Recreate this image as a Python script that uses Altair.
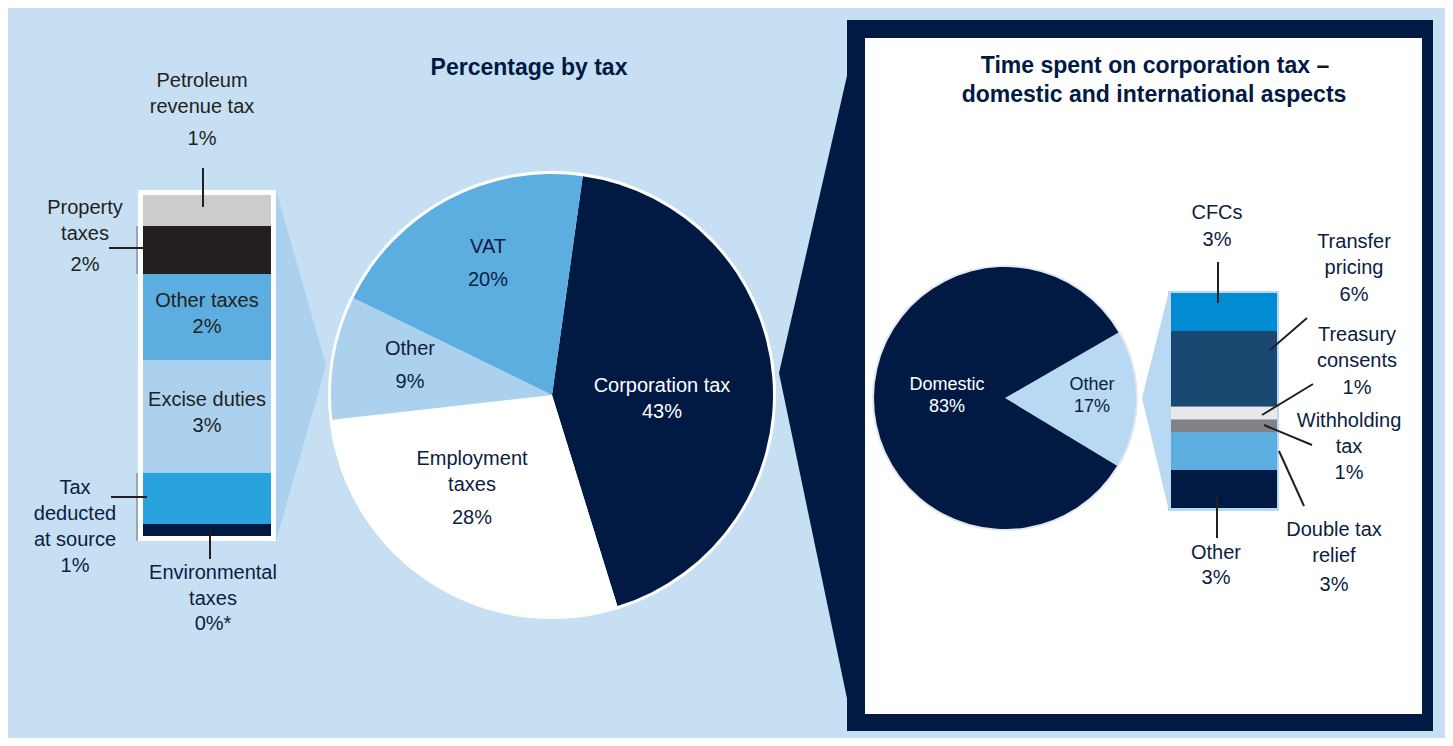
import math
import altair as alt
import pandas as pd

# ---------------- data ----------------
tax_types = ["Corporation tax", "Employment taxes", "Other", "VAT"]
tax_share = [43, 28, 9, 20]

other_types = ["Petroleum revenue tax", "Property taxes", "Other taxes",
               "Excise duties", "Tax deducted at source", "Environmental taxes"]
other_share = [0.82, 1.27, 2.27, 2.98, 1.35, 0.32]      # estimated segment sizes (sum ~ 9%)
other_labels = ["1%", "2%", "2%", "3%", "1%", "0%*"]

ct_parts = ["Other", "Domestic"]
ct_share = [17, 83]

intl_types = ["CFCs", "Transfer pricing", "Treasury consents",
              "Withholding tax", "Double tax relief", "Other"]
intl_share = [3, 6, 1, 1, 3, 3]

title_left = "Percentage by tax"
title_right = ["Time spent on corporation tax \u2013", "domestic and international aspects"]

# ---------------- styles ----------------
BG = "#C6DFF2"
NAVY = "#011A44"
TXT = "#0B1D42"
DARK = "#231F20"
WHITE = "#FFFFFF"
FONT = "Liberation Sans"

tax_colors = [NAVY, WHITE, "#ABD1EE", "#5DAEE0"]
other_colors = ["#CBCCCE", "#231F20", "#5DAEE0", "#ABD1EE", "#29A3DD", NAVY]
ct_colors = ["#B9D8F1", NAVY]
intl_colors = ["#008BD2", "#1B4870", "#E8E9EB", "#808285", "#5DAEE0", NAVY]

O = 8  # page margin


def px(v):
    return v - O


# ---------------- layout ----------------
WRAP = {
    "Employment taxes": ["Employment", "taxes"],
    "Petroleum revenue tax": ["Petroleum", "revenue tax"],
    "Property taxes": ["Property", "taxes"],
    "Tax deducted at source": ["Tax", "deducted", "at source"],
    "Environmental taxes": ["Environmental", "taxes"],
    "Transfer pricing": ["Transfer", "pricing"],
    "Treasury consents": ["Treasury", "consents"],
    "Withholding tax": ["Withholding", "tax"],
    "Double tax relief": ["Double tax", "relief"],
}
MAIN_POS = {"Corporation tax": (662, 386, 412, WHITE), "Employment taxes": (472, 459, 518, TXT),
            "Other": (410, 349, 382, TXT), "VAT": (488, 247, 280, TXT)}
OTHER_POS = {"Petroleum revenue tax": (202, 81, 139, DARK), "Property taxes": (85, 208, 265, DARK),
             "Other taxes": (207, 301, 327, DARK), "Excise duties": (207, 400, 426, DARK),
             "Tax deducted at source": (75, 488, 566, TXT), "Environmental taxes": (213, 573, 624, TXT)}
CT_POS = {"Domestic": (947, 385, 407, WHITE), "Other": (1092, 385, 407, TXT)}
INTL_POS = {"CFCs": (1217, 213, 240, TXT), "Transfer pricing": (1354, 242, 295, TXT),
            "Treasury consents": (1357, 335, 388, TXT), "Withholding tax": (1349, 421, 473, TXT),
            "Double tax relief": (1334, 530, 585, TXT), "Other": (1216, 553, 578, TXT)}

rows = []


def add_labels(names, pcts, pos, size, gap=26):
    for n, p in zip(names, pcts):
        x, yn, yp, col = pos[n]
        for i, line in enumerate(WRAP.get(n, [n])):
            rows.append(dict(text=line, x=px(x), y=px(yn + i * gap), color=col, size=size))
        rows.append(dict(text=p, x=px(x), y=px(yp), color=col, size=size))


add_labels(tax_types, [f"{v}%" for v in tax_share], MAIN_POS, 20)
add_labels(other_types, other_labels, OTHER_POS, 20)
add_labels(["Domestic", "Other"], [f"{ct_share[1]}%", f"{ct_share[0]}%"], CT_POS, 18, gap=22)
add_labels(intl_types, [f"{v}%" for v in intl_share], INTL_POS, 20)
labels_df = pd.DataFrame(rows)

titles_df = pd.DataFrame([
    dict(text=title_left, x=px(529), y=px(68)),
    dict(text=title_right[0], x=px(1155), y=px(66)),
    dict(text=title_right[1], x=px(1154), y=px(95)),
])

frames_df = pd.DataFrame([
    dict(x=px(847), x2=px(1433), y=px(20), y2=px(731), fill=NAVY),
    dict(x=px(865), x2=px(1422), y=px(38), y2=px(714), fill=WHITE),
    dict(x=px(138), x2=px(276), y=px(190), y2=px(541), fill=WHITE),
    dict(x=px(1168), x2=px(1279), y=px(291), y2=px(511), fill="#B9D8F1"),
])

areas_df = pd.DataFrame([
    dict(g="left", x=px(276), y=px(190), y2=px(541), fill="#ABD1EE"),
    dict(g="left", x=px(326), y=px(365.5), y2=px(365.5), fill="#ABD1EE"),
    dict(g="chev", x=px(779), y=px(373), y2=px(373), fill=NAVY),
    dict(g="chev", x=px(849), y=px(67), y2=px(708), fill=NAVY),
    dict(g="right", x=px(1142), y=px(398), y2=px(398), fill="#B9D8F1"),
    dict(g="right", x=px(1169), y=px(291), y2=px(511), fill="#B9D8F1"),
])

leaders_df = pd.DataFrame([
    (203, 168, 203, 207), (109, 248, 143, 248), (111, 497, 147, 497), (210, 530, 210, 559),
    (1218, 262, 1218, 303), (1307, 318, 1270, 350), (1313, 384, 1262, 415),
    (1264, 425, 1312, 445), (1279, 451, 1304, 506), (1217, 497, 1217, 538),
], columns=["x", "y", "x2", "y2"]).apply(px)

brackets_df = pd.DataFrame([(137, 226, 137, 274), (137, 473, 137, 541)],
                           columns=["x", "y", "x2", "y2"]).apply(px)

one = pd.DataFrame({"a": [0]})

# ---------------- layers ----------------
frames = alt.Chart(frames_df).mark_rect().encode(
    x=alt.X("x:Q", scale=None), x2="x2:Q",
    y=alt.Y("y:Q", scale=None), y2="y2:Q",
    color=alt.Color("fill:N", scale=None),
)

areas = alt.Chart(areas_df).mark_area(orient="vertical").encode(
    x=alt.X("x:Q", scale=None),
    y=alt.Y("y:Q", scale=None), y2="y2:Q",
    color=alt.Color("fill:N", scale=None),
    detail="g:N",
)


def ring(cx, cy, r, color):
    return alt.Chart(one).mark_arc(radius=r, theta=0, theta2=2 * math.pi, color=color).encode(
        x=alt.value(px(cx)), y=alt.value(px(cy)))


def pie(cats, vals, colors, cx, cy, r, start_deg):
    df = pd.DataFrame({"cat": cats, "val": vals, "ord": list(range(len(cats)))})
    s = math.radians(start_deg)
    return alt.Chart(df).mark_arc(radius=r).encode(
        theta=alt.Theta("val:Q", stack=True,
                        scale=alt.Scale(domain=[0, sum(vals)], range=[s, s + 2 * math.pi])),
        color=alt.Color("cat:N", scale=alt.Scale(domain=cats, range=colors), legend=None),
        order=alt.Order("ord:Q"),
        x=alt.value(px(cx)), y=alt.value(px(cy)),
    )


def stack_bar(cats, vals, colors, x0, x1, ybot, ytop):
    n = len(cats)
    df = pd.DataFrame({"cat": cats, "val": vals, "ord": [n - 1 - i for i in range(n)]})
    ysc = alt.Scale(domain=[0, sum(vals)], range=[px(ybot), px(ytop)], nice=False, zero=True)
    return alt.Chart(df).transform_stack(
        stack="val", as_=["v0", "v1"], groupby=[],
        sort=[alt.SortField("ord", order="ascending")],
    ).mark_rect().encode(
        x=alt.value(px(x0)), x2=alt.value(px(x1)),
        y=alt.Y("v0:Q", scale=ysc, axis=None), y2="v1:Q",
        color=alt.Color("cat:N", scale=alt.Scale(domain=cats, range=colors), legend=None),
    )


main_pie = pie(tax_types, tax_share, tax_colors, 552, 395, 221, 8)
small_pie = pie(ct_parts, ct_share, ct_colors, 1005, 398, 131, 60)
left_bar = stack_bar(other_types, other_share, other_colors, 143, 271, 536, 195)
right_bar = stack_bar(intl_types, intl_share, intl_colors, 1171, 1277, 508, 293)

brackets = alt.Chart(brackets_df).mark_rule(color="#6D6E71", strokeWidth=1).encode(
    x=alt.X("x:Q", scale=None), y=alt.Y("y:Q", scale=None), x2="x2:Q", y2="y2:Q")
leaders = alt.Chart(leaders_df).mark_rule(color=DARK, strokeWidth=2).encode(
    x=alt.X("x:Q", scale=None), y=alt.Y("y:Q", scale=None), x2="x2:Q", y2="y2:Q")

labels = alt.Chart(labels_df).mark_text(font=FONT, baseline="middle", align="center").encode(
    x=alt.X("x:Q", scale=None), y=alt.Y("y:Q", scale=None),
    text="text:N",
    color=alt.Color("color:N", scale=None),
    size=alt.Size("size:Q", scale=None),
)

titles = alt.Chart(titles_df).mark_text(font=FONT, fontWeight="bold", fontSize=23, color=NAVY,
                                        baseline="middle", align="center").encode(
    x=alt.X("x:Q", scale=None), y=alt.Y("y:Q", scale=None), text="text:N")

chart = alt.layer(
    frames, areas,
    ring(552, 395, 224, WHITE), main_pie,
    ring(1005, 398, 133, "#E3E8EF"), small_pie,
    left_bar, right_bar,
    brackets, leaders, labels, titles,
).resolve_scale(
    x="independent", y="independent", theta="independent", color="independent", size="independent"
).properties(
    width=1437, height=730, padding=0, autosize=alt.AutoSizeParams(type="none"), background=BG,
).configure_view(strokeWidth=0)

chart.save("out.html", embed_options={"renderer": "svg", "actions": False})
